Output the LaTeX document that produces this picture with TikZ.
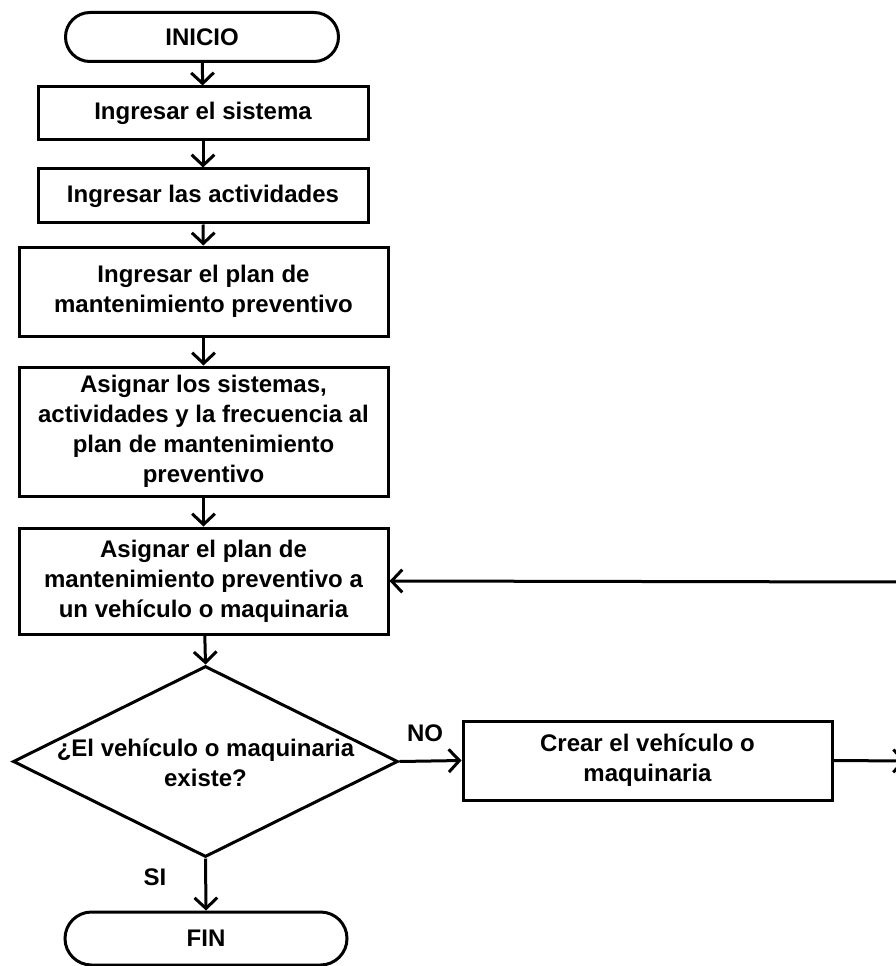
\documentclass[tikz,border=0pt]{standalone}
\usepackage{fontspec}
\setmainfont{Liberation Sans}
\usetikzlibrary{arrows.meta,shapes.misc,shapes.geometric}
\begin{document}
\begin{tikzpicture}[x=0.75pt,y=-0.75pt,
  every node/.style={font=\fontsize{18}{22.5}\selectfont\bfseries, align=center, inner sep=0pt},
  procbox/.style={draw, line width=2.25pt, rectangle},
  term/.style={draw, line width=2.25pt, rounded rectangle},
  decis/.style={draw, line width=2.25pt, diamond},
  lbl/.style={font=\fontsize{18}{22.5}\selectfont\bfseries},
  flow/.style={line width=2.25pt, -{Straight Barb[length=8pt,width=17pt,line width=2.25pt]}}
]
\useasboundingbox (0,0) rectangle (895,966);

\node[term, minimum width=204.75pt, minimum height=36.75pt] (ini) at (202,37) {INICIO};
\node[procbox, minimum width=247.5pt, minimum height=39.75pt] (b1) at (203,113.5) {Ingresar el sistema};
\node[procbox, minimum width=247.5pt, minimum height=40.5pt] (b2) at (203,196) {Ingresar las actividades};
\node[procbox, minimum width=276.75pt, minimum height=66.75pt] (b3) at (203.5,291.5) {Ingresar el plan de\\mantenimiento preventivo};
\node[procbox, minimum width=276.75pt, minimum height=96.75pt] (b4) at (203.5,431.5) {Asignar los sistemas,\\actividades y la frecuencia al\\plan de mantenimiento\\preventivo};
\node[procbox, minimum width=276.75pt, minimum height=79.5pt] (b5) at (203.5,581) {Asignar el plan de\\mantenimiento preventivo a\\un vehículo o maquinaria};
\node[decis, minimum width=288.75pt, minimum height=143.25pt] (dec) at (205.5,761.5) {};
\node (dtext) at (205.5,763) {¿El vehículo o maquinaria\\existe?};
\node[procbox, minimum width=276.75pt, minimum height=59.25pt] (crear) at (647.5,760.5) {Crear el vehículo o\\maquinaria};
\node[term, minimum width=211.5pt, minimum height=39.75pt] (fin) at (206,938.5) {FIN};

\node[lbl] (no) at (425,733) {NO};
\node[lbl] (si) at (155,877) {SI};

\coordinate (rin) at (900,582);
\coordinate (rout) at (906,761);

\draw[flow] (ini) -- (b1);
\draw[flow] (b1) -- (b2);
\draw[flow] (b2) -- (b3);
\draw[flow] (b3) -- (b4);
\draw[flow] (b4) -- (b5);
\draw[flow] (b5) -- (dec.north);
\draw[flow] (dec.east) -- (crear.west);
\draw[flow] (dec.south) -- (fin.north);
\draw[flow] (crear.east) -- (rout);
\draw[flow] (rin) -- (b5.east);
\end{tikzpicture}
\end{document}
